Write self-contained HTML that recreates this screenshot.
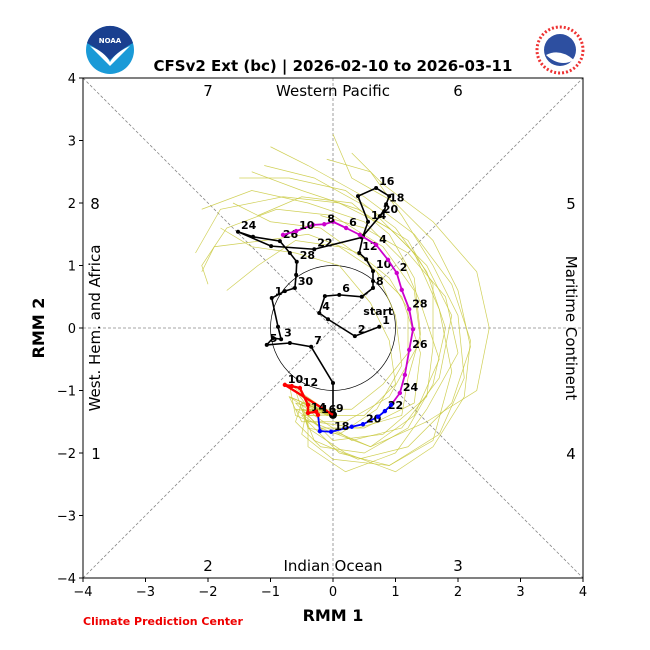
<!DOCTYPE html>
<html><head><meta charset="utf-8"><style>
html,body{margin:0;padding:0;background:#fff;}
svg{display:block;font-family:"DejaVu Sans","Liberation Sans",sans-serif;}
</style></head><body>
<svg id="chart" width="650" height="650" viewBox="0 0 650 650">
  <g>
    <circle cx="110" cy="50" r="24" fill="#1a9ad7"/>
    <path d="M87,43 A24,24 0 0 1 133,43 Q120,50 110,60 Q100,50 87,43Z" fill="#1a3f8f"/>
    <path d="M90,46 Q105,52 110,62 Q116,52 130,46 Q118,58 110,66 Q100,56 90,46Z" fill="#fff"/>
    <text x="110" y="43" font-size="7" font-weight="bold" fill="#fff" text-anchor="middle">NOAA</text>
  </g>
  <g>
    <circle cx="560" cy="50" r="23" fill="#fff" stroke="#e33" stroke-width="3" stroke-dasharray="2 2"/>
    <circle cx="560" cy="50" r="16" fill="#2d4fa0"/>
    <path d="M546,55 Q560,48 574,60 Q560,68 546,55Z" fill="#fff"/>
  </g>
  <text x="333" y="71" font-size="15" font-weight="bold" text-anchor="middle">CFSv2 Ext (bc) | 2026-02-10 to 2026-03-11</text>
  <g id="plot"></g>
  <text x="83" y="625" font-size="11" font-weight="bold" fill="#e00">Climate Prediction Center</text>
</svg>
<script>
const xTicks = [-4,-3,-2,-1,0,1,2,3,4];
const yTicks = [-4,-3,-2,-1,0,1,2,3,4];
const obsX = [0.74,0.35,-0.08,-0.22,-0.13,0.10,0.46,0.64,0.64,0.64,0.53,0.42,0.48,0.56,0.40,0.69,0.90,0.85,0.82,0.75,0.46,-0.30,-0.99,-1.52,-1.28,-0.85,-0.69,-0.58,-0.59,-0.61,-0.77,-0.98,-0.88,-0.83,-0.96,-1.06,-0.69,-0.35,0.0,0.0];
const obsY = [0.02,-0.13,0.14,0.24,0.51,0.53,0.50,0.64,0.75,0.91,1.10,1.20,1.47,1.70,2.11,2.24,2.11,1.98,1.87,1.79,1.45,1.26,1.31,1.54,1.46,1.39,1.20,1.06,0.85,0.64,0.59,0.48,0.02,-0.18,-0.16,-0.27,-0.24,-0.30,-0.88,-1.39];
const obsLabels = ["1","2","","4","","6","","8","","10","","12","","14","","16","","18","","20","","22","","24","","26","","28","","30","","1","","3","","5","","7","","9"];
const fcX = [-0.77,-0.66,-0.53,-0.40,-0.40,-0.27,-0.24,-0.21,-0.03,0.30,0.48,0.72,0.83,0.93,1.07,1.15,1.22,1.28,1.22,1.10,1.02,0.88,0.69,0.43,0.21,0.0,-0.14,-0.32,-0.59,-0.80];
const fcY = [-0.91,-0.93,-0.96,-1.23,-1.36,-1.34,-1.39,-1.65,-1.66,-1.58,-1.54,-1.42,-1.33,-1.23,-1.04,-0.75,-0.35,-0.02,0.30,0.61,0.88,1.09,1.33,1.49,1.60,1.70,1.66,1.65,1.55,1.49];
const fcLabels = ["10","","12","","14","","16","","18","","20","","22","","24","","26","","28","","2","","4","","6","","8","","10",""];
const fcColors = ["red","red","red","red","red","red","red","blue","blue","blue","blue","blue","blue","blue","m","m","m","m","m","m","m","m","m","m","m","m","m","m","m","m"];
const ens1X=[-0.5,-0.6,-0.2,0.5,1.2,1.6,1.8,1.5,1.0,0.2,-0.7,-1.5], ens1Y=[-1.2,-1.5,-1.9,-2.0,-1.6,-0.9,0,0.9,1.6,2.2,2.4,2.4];
const ens2X=[-0.6,-0.4,0.1,0.7,1.1,1.0,0.7,0.1,-0.6,-1.2,-1.7], ens2Y=[-1.0,-1.6,-1.7,-1.3,-0.6,0.2,0.9,1.3,1.4,1.0,0.6];
const ens3X=[-0.5,-0.3,0.4,1.2,1.9,2.2,2.0,1.6,1.0,0.3,0.0], ens3Y=[-1.3,-1.8,-2.1,-1.9,-1.2,-0.3,0.6,1.4,2.0,2.4,3.1];
const ens4X=[-0.7,-0.5,0.2,0.9,1.4,1.3,0.8,0.0,-0.9,-1.7,-2.1,-2.0], ens4Y=[-1.1,-1.5,-1.5,-1.1,-0.2,0.6,1.3,1.8,1.9,1.6,1.0,0.7];
const ens5X=[-0.4,0.0,0.8,1.5,1.6,1.6,1.2,0.4,-0.5,-1.3], ens5Y=[-1.4,-1.8,-1.7,-1.1,-0.3,0.7,1.4,1.9,2.2,2.5];
const ens6X=[-0.6,-0.2,0.6,1.5,2.3,2.5,2.3,1.6,0.8,0.3], ens6Y=[-1.3,-1.6,-1.9,-1.5,-1.0,0.0,0.9,1.7,2.3,2.8];
const ens7X=[-0.5,-0.1,0.5,1.0,0.9,0.6,0.1,-0.6,-1.3,-1.8], ens7Y=[-1.1,-1.4,-1.4,-0.9,-0.2,0.4,1.0,1.2,1.3,1.6];
const ens8X=[-0.4,-0.5,0.0,0.9,1.6,1.9,1.7,1.3,0.6,-0.3,-1.1], ens8Y=[-1.2,-1.7,-2.1,-2.2,-1.8,-0.7,0.3,1.2,1.9,2.4,2.6];
const ens9X=[-0.6,-0.3,0.3,1.1,1.7,1.9,1.5,0.9,0.1,-0.8,-1.8,-2.2], ens9Y=[-1.0,-1.4,-1.8,-1.6,-0.8,0.2,1.0,1.6,2.0,2.1,1.9,1.2];
const ens10X=[-0.5,-0.2,0.5,1.3,1.4,1.1,0.5,-0.2,-1.0,-1.6], ens10Y=[-1.3,-1.6,-1.6,-1.2,-0.4,0.5,1.1,1.6,1.7,2.0];
const ens11X=[-0.7,-0.6,-0.1,0.6,1.3,1.7,1.4,1.1,0.5,-0.4,-1.3,-2.1], ens11Y=[-0.9,-1.4,-1.6,-1.9,-1.4,-0.5,0.4,1.1,1.7,2.0,2.2,1.9];
const ens12X=[-0.4,-0.4,0.2,1.0,1.5,2.0,1.8,1.2,0.5,-0.2], ens12Y=[-1.3,-1.9,-2.3,-2.0,-1.3,-0.4,0.5,1.2,1.6,1.8];
const ens13X=[-0.6,-0.3,0.4,1.1,1.2,1.4,1.3,0.9,0.3,-0.5,-1.2], ens13Y=[-1.2,-1.5,-1.6,-1.4,-0.8,-0.1,0.8,1.5,2.0,2.1,1.8];
const ens14X=[-0.5,0.1,0.9,1.7,2.1,2.0,1.6,1.1,0.6,-0.1], ens14Y=[-1.4,-2.0,-2.2,-1.7,-0.8,0.2,1.0,1.8,2.5,2.7];
const ens15X=[-0.7,-0.4,0.3,0.8,1.2,1.2,0.9,0.4,-0.4,-1.1,-1.9,-2.1], ens15Y=[-1.1,-1.3,-1.3,-0.9,-0.4,0.3,0.8,1.2,1.5,1.4,1.3,0.9];
const ens16X=[-0.5,-0.4,0.2,1.0,1.6,2.1,2.2,1.9,1.3,0.5,-0.4,-1.0], ens16Y=[-1.2,-1.6,-2.0,-2.3,-1.9,-1.1,-0.2,0.7,1.5,2.1,2.6,2.9];

const L=83,R=583,T=78,B=578;
const sx=v=>L+(v+4)*(R-L)/8;
const sy=v=>B-(v+4)*(B-T)/8;
const NS="http://www.w3.org/2000/svg";
const plot=document.getElementById('plot');
function mk(tag,attrs,parent){const e=document.createElementNS(NS,tag);for(const k in attrs)e.setAttribute(k,attrs[k]);(parent||plot).appendChild(e);return e;}

const g1=mk('line',{x1:sx(0),y1:T,x2:sx(0),y2:B,stroke:'#888','stroke-width':0.8,'stroke-dasharray':'3 2'});


const g2=mk('line',{x1:L,y1:sy(0),x2:R,y2:sy(0),stroke:'#888','stroke-width':0.8,'stroke-dasharray':'3 2'});


const g3=mk('line',{x1:L,y1:T,x2:R,y2:B,stroke:'#888','stroke-width':0.8,'stroke-dasharray':'3 2'});


const g4=mk('line',{x1:L,y1:B,x2:R,y2:T,stroke:'#888','stroke-width':0.8,'stroke-dasharray':'3 2'});


const circ=mk('circle',{cx:sx(0),cy:sy(0),r:sx(1)-sx(0),fill:'none',stroke:'#000','stroke-width':0.7});



const ens=[[ens1X,ens1Y],[ens2X,ens2Y],[ens3X,ens3Y],[ens4X,ens4Y],[ens5X,ens5Y],[ens6X,ens6Y],[ens7X,ens7Y],[ens8X,ens8Y],[ens9X,ens9Y],[ens10X,ens10Y],[ens11X,ens11Y],[ens12X,ens12Y],[ens13X,ens13Y],[ens14X,ens14Y],[ens15X,ens15Y],[ens16X,ens16Y]];
ens.forEach(([xs,ys])=>{
  const pts=[[0,-1.39]].concat(xs.map((x,i)=>[x,ys[i]])).map(p=>sx(p[0])+','+sy(p[1])).join(' ');
  const pl=mk('polyline',{points:pts,fill:'none',stroke:'#c8c83a','stroke-width':0.7,opacity:0.85});
  
  
});

const op=mk('polyline',{points:obsX.map((x,i)=>sx(x)+','+sy(obsY[i])).join(' '),fill:'none',stroke:'#000','stroke-width':1.6});


obsX.forEach((x,i)=>{
  const d=mk('circle',{cx:sx(x),cy:sy(obsY[i]),r:i==obsX.length-1?4:2,fill:'#000'});
  
  
  if(obsLabels[i]){
    const t=mk('text',{x:sx(x)+3,y:sy(obsY[i])-3,'font-size':11,'font-weight':'bold'});
    t.textContent=obsLabels[i];
    
    
  }
});
const st=mk('text',{x:sx(obsX[0])-1,y:sy(obsY[0])-12,'font-size':11,'font-weight':'bold','text-anchor':'middle'});
st.textContent='start';



const colMap={red:'#ff0000',blue:'#0000ff',m:'#cc00cc'};
let px=obsX[obsX.length-1],py=obsY[obsY.length-1];
fcX.forEach((x,i)=>{
  const c=colMap[fcColors[i]];
  const s=mk('line',{x1:sx(px),y1:sy(py),x2:sx(x),y2:sy(fcY[i]),stroke:c,'stroke-width':fcColors[i]=='red'?2.4:1.8});
  
  
  px=x;py=fcY[i];
});
fcX.forEach((x,i)=>{
  const c=colMap[fcColors[i]];
  const d=mk('circle',{cx:sx(x),cy:sy(fcY[i]),r:2.2,fill:c});
  
  
  if(fcLabels[i]){
    const t=mk('text',{x:sx(x)+3,y:sy(fcY[i])-2,'font-size':11,'font-weight':'bold'});
    t.textContent=fcLabels[i];
    
    
  }
});

const fr=mk('rect',{x:L,y:T,width:R-L,height:B-T,fill:'none',stroke:'#000','stroke-width':1});


xTicks.forEach(v=>{
  mk('line',{x1:sx(v),y1:B,x2:sx(v),y2:B+4,stroke:'#000'});
  const t=mk('text',{x:sx(v),y:B+18,'font-size':13,'text-anchor':'middle'});
  t.textContent=(v<0?'\u2212'+(-v):v);
  
  
});
yTicks.forEach(v=>{
  mk('line',{x1:L-4,y1:sy(v),x2:L,y2:sy(v),stroke:'#000'});
  const t=mk('text',{x:L-7,y:sy(v)+5,'font-size':13,'text-anchor':'end'});
  t.textContent=(v<0?'\u2212'+(-v):v);
  
  
});
const xl=mk('text',{x:333,y:621,'font-size':16,'font-weight':'bold','text-anchor':'middle'});
xl.textContent='RMM 1';


const yl=mk('text',{x:0,y:0,'font-size':16,'font-weight':'bold','text-anchor':'middle',transform:'translate(44,328) rotate(-90)'});
yl.textContent='RMM 2';



const phaseNums=['7','6','8','5','1','4','2','3'];
const phaseXs=[208,458,95,571,96,571,208,458];
const phaseYs=[96,96,209,209,459,459,571,571];
phaseNums.forEach((p,i)=>{
  const t=mk('text',{x:phaseXs[i],y:phaseYs[i],'font-size':15,'text-anchor':'middle'});
  t.textContent=p;
  
  
});
const r1=mk('text',{x:333,y:96,'font-size':15,'text-anchor':'middle'});r1.textContent='Western Pacific';


const r2=mk('text',{x:333,y:571,'font-size':15,'text-anchor':'middle'});r2.textContent='Indian Ocean';


const r3=mk('text',{x:0,y:0,'font-size':15,'text-anchor':'middle',transform:'translate(100,328) rotate(-90)'});r3.textContent='West. Hem. and Africa';


const r4=mk('text',{x:0,y:0,'font-size':15,'text-anchor':'middle',transform:'translate(566,328) rotate(90)'});r4.textContent='Maritime Continent';


</script>
</body></html>
